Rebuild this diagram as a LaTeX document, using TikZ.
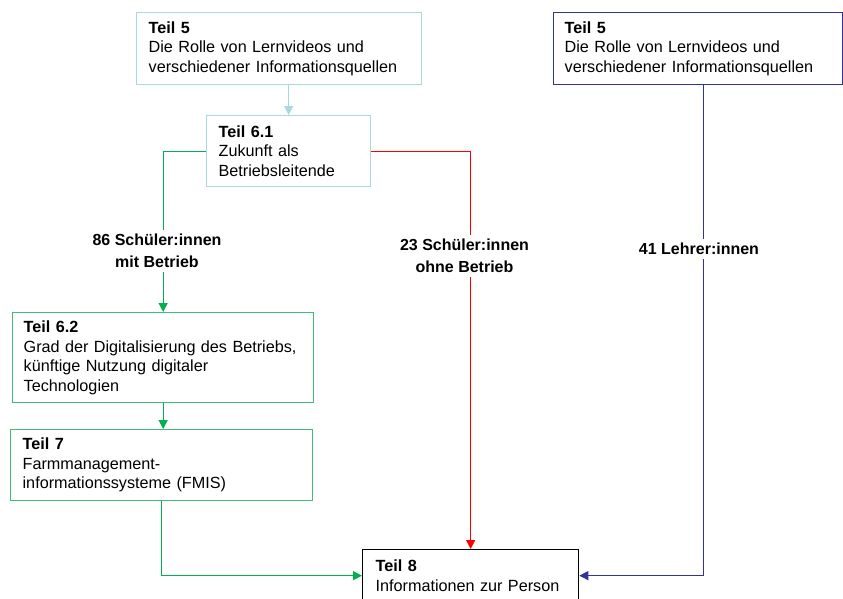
\documentclass[tikz,border=0pt]{standalone}
\usepackage{fontspec}
\setmainfont{Liberation Sans}
\usetikzlibrary{arrows.meta}
\definecolor{lblue}{HTML}{A9D8DD}
\definecolor{gline}{HTML}{00B050}
\definecolor{gbox}{HTML}{3DBE76}
\definecolor{rline}{HTML}{FF0000}
\definecolor{nline}{HTML}{333399}
\tikzset{
  box/.style={draw, line width=1.3pt, anchor=north west, align=left, inner xsep=12pt, inner ysep=0pt,
    font=\fontsize{16.2}{19.6}\selectfont},
  lab/.style={fill=white, align=center, inner sep=4pt, font=\fontsize{16}{22}\selectfont\bfseries},
  conn/.style={line width=1.3pt, -{Triangle[length=9pt,width=9pt]}},
  plain/.style={line width=1.3pt}
}
\begin{document}
\begin{tikzpicture}[x=1pt,y=-1pt]
\useasboundingbox (0,0) rectangle (843,598);
\clip (0,0) rectangle (843,598);
\fill[white] (0,0) rectangle (843,598);

\node[box, draw=lblue, text width=261pt, minimum height=72pt] (t5a) at (136,12)
  {\textbf{Teil 5}\\Die Rolle von Lernvideos und\\verschiedener Informationsquellen};
\node[box, draw=lblue, text width=140pt, minimum height=71pt] (t61) at (206,115)
  {\textbf{Teil 6.1}\\Zukunft als\\Betriebsleitende};
\node[box, draw=gbox, inner xsep=11pt, text width=279pt, minimum height=90pt] (t62) at (12,312)
  {\textbf{Teil 6.2}\\Grad der Digitalisierung des Betriebs,\\künftige Nutzung digitaler\\Technologien};
\node[box, draw=gbox, inner xsep=12pt, text width=278pt, minimum height=71pt] (t7) at (10,429)
  {\textbf{Teil 7}\\Farmmanagement-\\informationssysteme (FMIS)};
\node[box, draw=black, inner xsep=13pt, text width=190pt, minimum height=52pt] (t8) at (362,549)
  {\textbf{Teil 8}\\Informationen zur Person};
\node[box, draw=nline, inner xsep=11pt, text width=267pt, minimum height=72pt] (t5b) at (553,12)
  {\textbf{Teil 5}\\Die Rolle von Lernvideos und\\verschiedener Informationsquellen};

% connectors
\draw[conn, lblue] (t5a.south -| t61.north) -- (t61.north);
\draw[conn, gline] (t61.west) -| (t62.north);
\draw[conn, gline] (t62.south) -- (t62.south |- t7.north);
\draw[conn, gline] (t7.south) |- (t8.west);
\draw[conn, rline] (t61.east) -| (t8.north);
\draw[conn, nline] ([xshift=5.5pt]t5b.south) |- (t8.east);

% labels
\node[lab] (l1) at (157,251) {86 Schüler:innen\\mit Betrieb};
\node[lab] (l2) at (464.5,256) {23 Schüler:innen\\ohne Betrieb};
\node[lab] (l3) at (699,249) {41 Lehrer:innen};
\end{tikzpicture}
\end{document}
